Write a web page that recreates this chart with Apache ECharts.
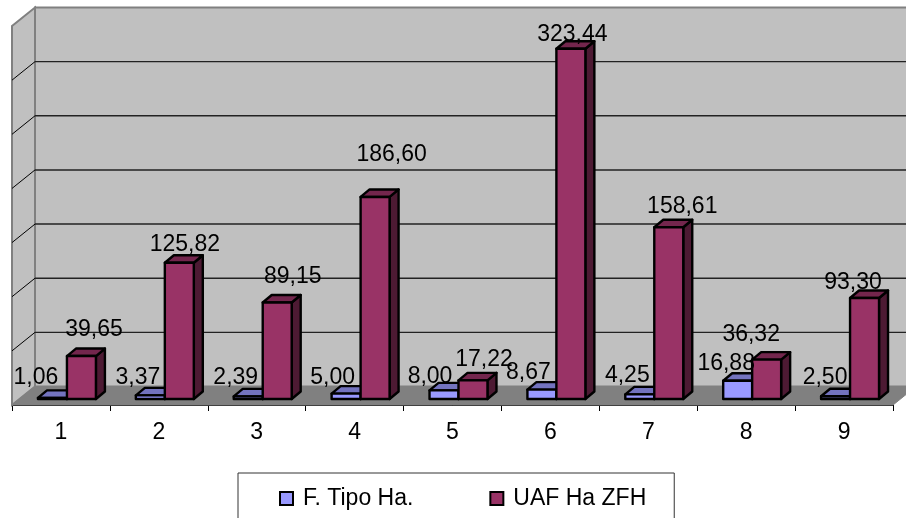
<!DOCTYPE html>
<html>
<head>
<meta charset="utf-8">
<style>html,body{margin:0;padding:0;background:#fff}#c{width:906px;height:518px}</style>
<script src="https://cdn.jsdelivr.net/npm/echarts@6/dist/echarts.min.js"></script>
</head>
<body>
<div id="c"></div>
<script>
const categories = ['1','2','3','4','5','6','7','8','9'];
const tipoName = 'F. Tipo Ha.';
const uafName = 'UAF Ha ZFH';
const tipoValues = [1.06,3.37,2.39,5.00,8.00,8.67,4.25,16.88,2.50];
const uafValues = [39.65,125.82,89.15,186.60,17.22,323.44,158.61,36.32,93.30];
const yTicks = [0,50,100,150,200,250,300,350];

// hand placement of the data labels, relative to the top of each bar
const tipoLabelDx = [-16.5,-12.5,-12.5,-13.5,-14,-13.5,-12.5,-11.5,-10.5];
const tipoLabelDy = [-20,-17.4,-18.4,-15.6,-13.3,-16.6,-18.4,-16.7,-18.3];
const uafLabelDx = [12.5,5.5,15.5,16.5,11,1.5,13.5,-15.5,-11.5];
const uafLabelDy = [-26,-17.7,-25.4,-41.9,-20.4,-13.7,-20.2,-24.7,-15];

const FAMILY = '"Liberation Sans", Arial, sans-serif';
const FONT = '23px ' + FAMILY;
const WALL_DX = 23, WALL_DY = -18.5;
const BAR_DX = 9, BAR_DY = -7.5;
const FRONT_DX = 6, FRONT_DY = -6;
const fmt = v => v.toFixed(2).replace('.', ',');

function barRenderer(values, dxs, dys, side, colors, layer) {
  return function (params, api) {
    const i = params.dataIndex;
    const p = api.coord([i, values[i]]);
    const p0 = api.coord([i, 0]);
    const slot = api.size([1, 0])[0];
    const w = slot * 0.296;
    const x0 = p[0] + FRONT_DX + (side < 0 ? -w : 0);
    const x1 = x0 + w;
    const top = p[1] + FRONT_DY, bot = p0[1] + FRONT_DY;
    const st = {stroke: '#000', lineWidth: 2.4, lineJoin: 'round'};
    const poly = (pts, fill) => ({type: 'polygon', z2: layer, shape: {points: pts},
      style: Object.assign({fill}, st)});
    return {type: 'group', children: [
      poly([[x1, top], [x1 + BAR_DX, top + BAR_DY], [x1 + BAR_DX, bot + BAR_DY], [x1, bot]], colors[2]),
      poly([[x0, top], [x0 + BAR_DX, top + BAR_DY], [x1 + BAR_DX, top + BAR_DY], [x1, top]], colors[1]),
      poly([[x0, top], [x1, top], [x1, bot], [x0, bot]], colors[0]),
      {type: 'text', z2: 10, style: {
        text: fmt(values[i]), x: (x0 + x1) / 2 + dxs[i], y: top + dys[i],
        textAlign: 'center', textVerticalAlign: 'middle', font: FONT, fill: '#000'}}
    ]};
  };
}

const chart = echarts.init(document.getElementById('c'), null, {renderer: 'canvas'});
chart.setOption({
  animation: false,
  backgroundColor: '#fff',
  grid: {left: 12, right: 13, top: 26, bottom: 113, containLabel: false},
  xAxis: {
    type: 'category', data: categories, boundaryGap: true,
    axisLine: {show: true, onZero: true, lineStyle: {color: '#000', width: 2}},
    axisTick: {show: true, length: 6, lineStyle: {color: '#000', width: 1}},
    axisLabel: {color: '#000', fontSize: 23, fontFamily: FAMILY, margin: 16, interval: 0}
  },
  yAxis: {
    type: 'value', min: 0, max: 350, interval: 50,
    axisLabel: {show: false}, axisLine: {show: false}, axisTick: {show: false}, splitLine: {show: false}
  },
  legend: {
    show: true, left: 238, top: 473,
    data: [tipoName, uafName],
    padding: [14, 28, 40, 41],
    backgroundColor: '#fff', borderColor: '#333', borderWidth: 1,
    itemWidth: 13, itemHeight: 13, itemGap: 76,
    icon: 'rect',
    textStyle: {color: '#000', fontSize: 23, fontFamily: FAMILY, padding: [0, 0, 0, 5]}
  },
  series: [
    {
      type: 'custom', name: 'walls', silent: true, z: 1, clip: false,
      coordinateSystem: 'cartesian2d',
      data: [[0, 0]],
      renderItem: function (params) {
        const c = params.coordSys;
        const l = c.x, t = c.y, r = c.x + c.width, b = c.y + c.height;
        const edge = {stroke: '#808080', lineWidth: 2};
        return {type: 'group', children: [
          {type: 'polygon', shape: {points: [[l, t], [l + WALL_DX, t + WALL_DY], [l + WALL_DX, b + WALL_DY], [l, b]]},
            style: Object.assign({fill: '#c0c0c0'}, edge)},
          {type: 'polygon', shape: {points: [[l + WALL_DX, t + WALL_DY], [r + WALL_DX, t + WALL_DY], [r + WALL_DX, b + WALL_DY], [l + WALL_DX, b + WALL_DY]]},
            style: Object.assign({fill: '#c0c0c0'}, edge)},
          {type: 'polygon', shape: {points: [[l, b], [l + WALL_DX, b + WALL_DY], [r + WALL_DX, b + WALL_DY], [r, b]]},
            style: {fill: '#808080', stroke: '#808080', lineWidth: 1}}
        ]};
      }
    },
    {
      type: 'custom', name: 'grid3d', silent: true, z: 2, clip: false,
      coordinateSystem: 'cartesian2d',
      data: yTicks.slice(1, -1).map(v => [0, v]),
      renderItem: function (params, api) {
        const c = params.coordSys;
        const y = api.coord([0, api.value(1)])[1];
        const l = c.x, r = c.x + c.width;
        return {type: 'group', children: [
          {type: 'polyline', shape: {points: [[l, y], [l + WALL_DX, y + WALL_DY]]}, style: {stroke: '#000', lineWidth: 1, fill: 'none'}},
          {type: 'polyline', shape: {points: [[l + WALL_DX, y + WALL_DY], [r + WALL_DX, y + WALL_DY]]}, style: {stroke: '#222', lineWidth: 1.4, fill: 'none'}}
        ]};
      }
    },
    {
      type: 'custom', name: tipoName, z: 3, clip: false,
      coordinateSystem: 'cartesian2d',
      itemStyle: {color: '#9999FF', borderColor: '#000', borderWidth: 2},
      data: tipoValues.map((v, i) => [i, v]),
      encode: {x: 0, y: 1},
      renderItem: barRenderer(tipoValues, tipoLabelDx, tipoLabelDy, -1, ['#9999FF', '#7373BF', '#4D4D80'], 1)
    },
    {
      type: 'custom', name: uafName, z: 3, clip: false,
      coordinateSystem: 'cartesian2d',
      itemStyle: {color: '#993366', borderColor: '#000', borderWidth: 2},
      data: uafValues.map((v, i) => [i, v]),
      encode: {x: 0, y: 1},
      renderItem: barRenderer(uafValues, uafLabelDx, uafLabelDy, 1, ['#993366', '#73264D', '#4D1A33'], 2)
    }
  ]
});
</script>
</body>
</html>
